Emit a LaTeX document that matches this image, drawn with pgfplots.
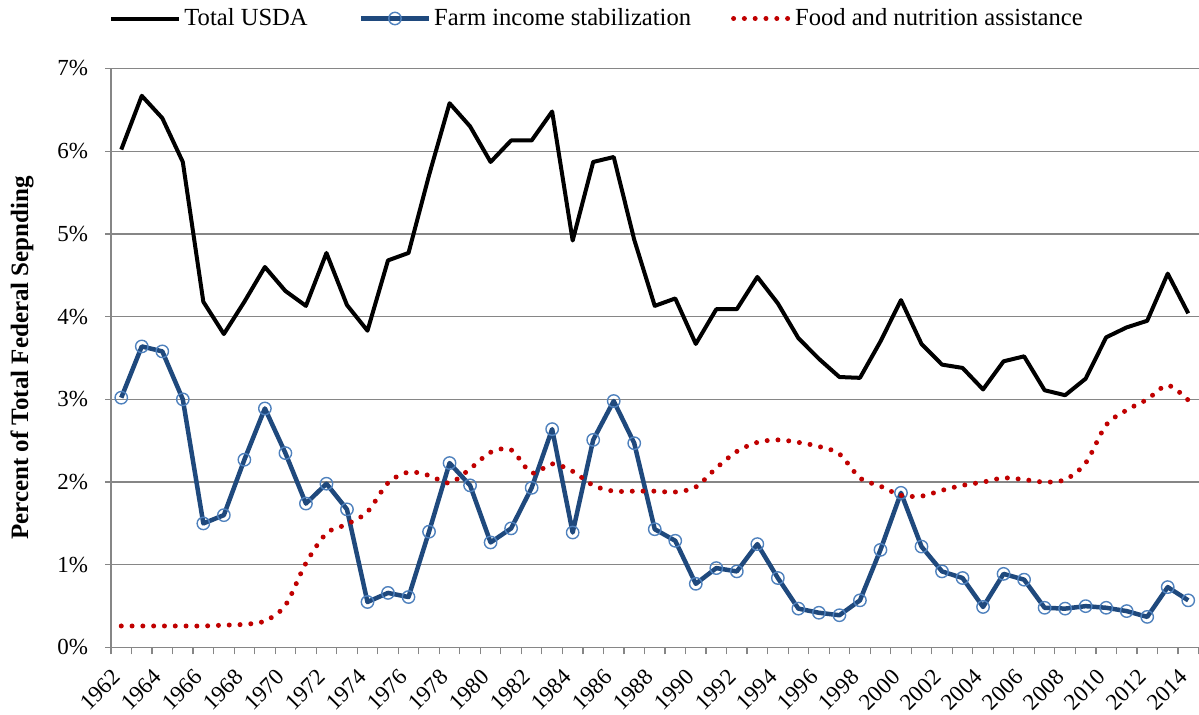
\documentclass[border=0pt]{standalone}
\usepackage{fontspec}
\setmainfont{Liberation Serif}
\usepackage{pgfplots}
\pgfplotsset{compat=1.18}
\definecolor{gridgray}{RGB}{134,134,134}
\definecolor{farmblue}{RGB}{31,73,125}
\definecolor{markblue}{RGB}{79,129,189}
\definecolor{foodred}{RGB}{192,0,0}
\pgfplotsset{foodlegend/.style={legend image code/.code={\draw[##1] (3pt,0pt) -- (31pt,0pt);}}}

\pgfplotstableread{
year total farm food
1962 6.02 3.02 0.26
1963 6.67 3.64 0.26
1964 6.40 3.58 0.26
1965 5.87 3.00 0.26
1966 4.18 1.50 0.26
1967 3.79 1.60 0.27
1968 4.18 2.27 0.28
1969 4.60 2.89 0.32
1970 4.31 2.35 0.51
1971 4.13 1.74 1.02
1972 4.77 1.98 1.38
1973 4.14 1.67 1.49
1974 3.83 0.55 1.64
1975 4.68 0.66 1.99
1976 4.77 0.61 2.12
1977 5.71 1.40 2.08
1978 6.58 2.23 1.99
1979 6.30 1.96 2.16
1980 5.87 1.27 2.36
1981 6.13 1.44 2.39
1982 6.13 1.93 2.11
1983 6.48 2.64 2.22
1984 4.92 1.39 2.13
1985 5.87 2.51 1.96
1986 5.93 2.98 1.89
1987 4.93 2.47 1.89
1988 4.13 1.43 1.89
1989 4.22 1.29 1.88
1990 3.67 0.77 1.94
1991 4.09 0.96 2.17
1992 4.09 0.92 2.37
1993 4.48 1.25 2.48
1994 4.16 0.84 2.51
1995 3.74 0.47 2.48
1996 3.49 0.42 2.43
1997 3.27 0.39 2.34
1998 3.26 0.57 2.05
1999 3.70 1.18 1.95
2000 4.20 1.87 1.84
2001 3.67 1.22 1.83
2002 3.42 0.92 1.90
2003 3.38 0.84 1.96
2004 3.12 0.49 2.00
2005 3.46 0.89 2.05
2006 3.52 0.82 2.03
2007 3.11 0.48 2.00
2008 3.05 0.47 2.03
2009 3.25 0.50 2.23
2010 3.75 0.48 2.69
2011 3.87 0.44 2.87
2012 3.95 0.37 3.00
2013 4.52 0.73 3.17
2014 4.04 0.57 2.99
}\usdatable

\begin{document}
\begin{tikzpicture}
\begin{axis}[
  at={(0,0)}, anchor=south west,
  width=543.75pt, height=289.5pt, scale only axis,
  xmin=1961.5, xmax=2014.5, ymin=0, ymax=7,
  axis x line*=bottom, axis y line*=left,
  axis line style={gridgray, line width=0.6pt, -},
  tick align=outside,
  xtick={1962,1964,...,2014},
  xticklabels={1962,1964,1966,1968,1970,1972,1974,1976,1978,1980,1982,1984,1986,1988,1990,1992,1994,1996,1998,2000,2002,2004,2006,2008,2010,2012,2014},
  major x tick style={draw=none},
  minor xtick={1961.5,1962.5,...,2014.6},
  minor x tick style={gridgray, line width=0.6pt},
  minor tick length=3.5pt,
  ytick={0,1,...,7},
  yticklabels={0\%,1\%,2\%,3\%,4\%,5\%,6\%,7\%},
  major y tick style={gridgray, line width=0.6pt},
  major tick length=3pt,
  ymajorgrids,
  grid style={gridgray, line width=0.6pt},
  ticklabel style={font=\fontsize{11.5}{13}\selectfont},
  xticklabel style={rotate=45, anchor=east},
  xticklabel shift=7.5pt,
  yticklabel style={xshift=-5pt},
  ylabel={\textbf{Percent of Total Federal Sepnding}},
  ylabel style={at={(rel axis cs:0,0.5)}, anchor=center, yshift=44.5pt, font=\fontsize{12.5}{14}\selectfont},
  legend columns=3,
  legend style={at={(rel axis cs:0,1)}, anchor=west, xshift=-1pt, yshift=25pt,
    draw=none, fill=none, inner sep=0pt, column sep=0pt,
    nodes={inner xsep=1.5pt, inner ysep=0pt},
    font=\fontsize{12.3}{14}\selectfont},
  legend image code/.code={\draw[mark repeat=2, mark phase=2, #1] plot coordinates {(0pt,0pt) (17pt,0pt) (34pt,0pt)};},
  clip=false,
]
\addplot[black, line width=2pt, line join=round] table[x=year, y=total] {\usdatable};
\addlegendentry{Total USDA\rule{24pt}{0pt}}
\addplot[farmblue, line width=2.25pt, line join=round, mark=o, mark size=3.1pt,
  mark options={markblue, line width=0.7pt, solid}] table[x=year, y=farm] {\usdatable};
\addlegendentry{Farm income stabilization\rule{18.5pt}{0pt}}
\addplot[foodred, line width=2.5pt, line cap=round, dash pattern=on 0pt off 5.4pt, smooth,
  foodlegend] table[x=year, y=food] {\usdatable};
\addlegendentry{Food and nutrition assistance}
\end{axis}
\pgfresetboundingbox
\path[use as bounding box] (-55.5pt,-33.75pt) rectangle (544pt,323.75pt);
\end{tikzpicture}
\end{document}
